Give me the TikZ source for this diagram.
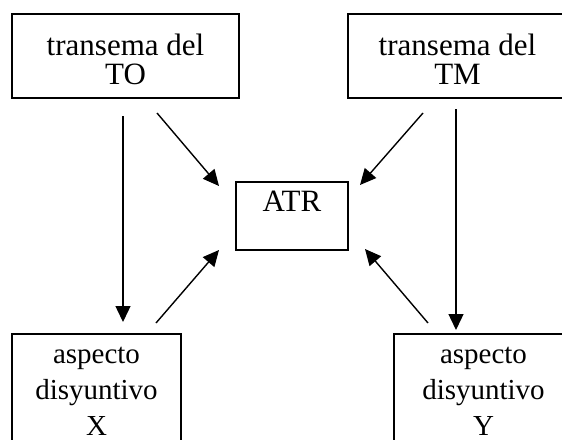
\documentclass[tikz,border=0pt]{standalone}
\usepackage{fontspec}
\setmainfont{Liberation Serif}
\usetikzlibrary{arrows.meta}
\begin{document}
\begin{tikzpicture}[x=1pt,y=-1pt,
  box/.style={draw, line width=2pt, inner sep=0pt, rectangle},
  label/.style={align=center, inner sep=0pt},
  toptext/.style={label, font=\fontsize{31}{29}\selectfont},
  bottext/.style={label, font=\fontsize{29}{36}\selectfont},
  link/.style={line width=1.4pt, -{Triangle[length=16pt,width=15pt]}}]
  % page area
  \useasboundingbox[fill=white] (0,0) rectangle (562,439);

  % boxes (the outer ones run off the page edge)
  \node[box, minimum width=227pt, minimum height=84pt] (TO) at (125.5,56) {};
  \node[box, minimum width=219pt, minimum height=84pt] (TM) at (457.5,56) {};
  \node[box, minimum width=112pt, minimum height=68pt,
        font=\fontsize{31}{31}\selectfont, text height=21pt, text depth=31pt] (ATR) at (292,216) {ATR};
  \node[box, minimum width=169pt, minimum height=136pt] (X) at (96.5,402) {};
  \node[box, minimum width=179pt, minimum height=136pt] (Y) at (483.5,402) {};

  % box texts, placed by the baseline of their last line
  \node[toptext, anchor=base] (TOtext) at (125.5,84) {transema del\\TO};
  \node[toptext, anchor=base] (TMtext) at (457.5,84) {transema del\\TM};
  \node[bottext, anchor=base] (Xtext) at (96.5,435) {aspecto\\disyuntivo\\X};
  \node[bottext, anchor=base] (Ytext) at (483.5,435) {aspecto\\disyuntivo\\Y};

  % free ends of the connectors
  \coordinate (TOdown) at (123,116);   \coordinate (Xin) at (123,322);
  \coordinate (TMdown) at (456,109);   \coordinate (Yin) at (456,330);
  \coordinate (TOdiag) at (157,113);   \coordinate (ATRtl) at (219,186);
  \coordinate (TMdiag) at (423,113);   \coordinate (ATRtr) at (360,185);
  \coordinate (Xdiag) at (156,323);    \coordinate (ATRbl) at (219,250);
  \coordinate (Ydiag) at (428,323);    \coordinate (ATRbr) at (365,249);

  % connectors
  \draw[link] (TOdown) -- (Xin);
  \draw[link] (TMdown) -- (Yin);
  \draw[link] (TOdiag) -- (ATRtl);
  \draw[link] (TMdiag) -- (ATRtr);
  \draw[link] (Xdiag) -- (ATRbl);
  \draw[link] (Ydiag) -- (ATRbr);
\end{tikzpicture}
\end{document}
